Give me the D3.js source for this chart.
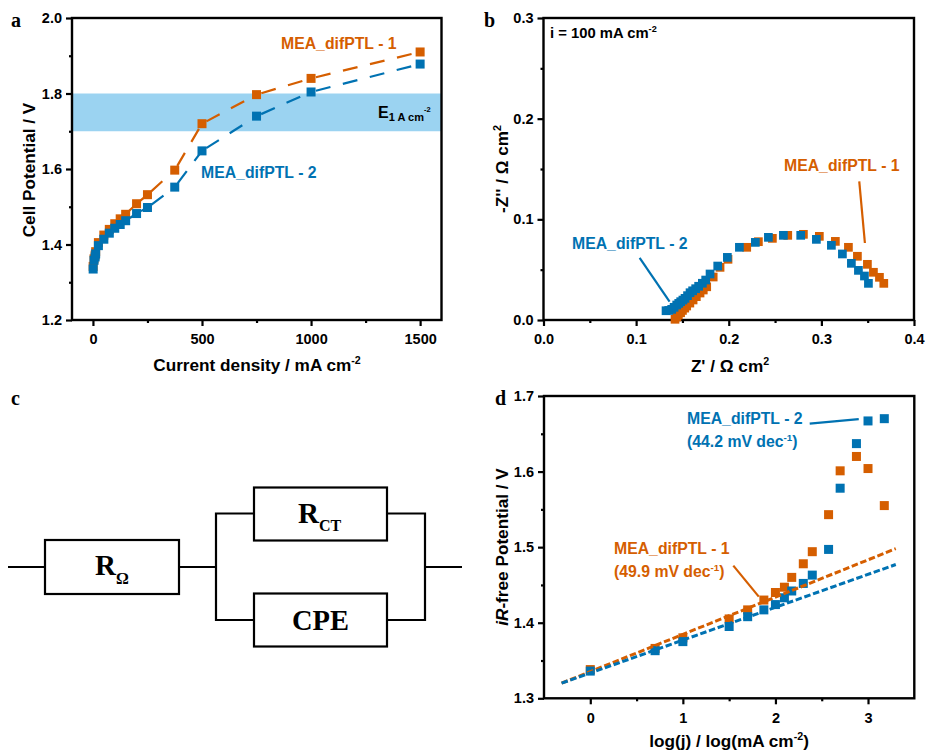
<!DOCTYPE html>
<html>
<head>
<meta charset="utf-8">
<script src="https://cdn.jsdelivr.net/npm/d3@7"></script>
<style>
  html, body { margin: 0; padding: 0; background: #fff; }
  svg { display: block; }
  text { font-family: "Liberation Sans", Arial, sans-serif; font-weight: bold; }
  .serif { font-family: "Liberation Serif", "Times New Roman", serif; }
</style>
</head>
<body>
<svg id="chart" width="926" height="752"></svg>
<script>
// panel a: polarisation curves
const currentDensity = [1, 5, 10, 12.5, 25, 50, 75, 100, 125, 150, 200, 250, 375, 500, 750, 1000, 1500];
const polarisation1 = [1.342, 1.362, 1.372, 1.381, 1.405, 1.425, 1.44, 1.455, 1.468, 1.48, 1.508, 1.532, 1.597, 1.72, 1.797, 1.84, 1.91];
const polarisation2 = [1.335, 1.358, 1.367, 1.375, 1.397, 1.414, 1.43, 1.443, 1.453, 1.463, 1.482, 1.498, 1.552, 1.648, 1.74, 1.804, 1.878];

// panel b: impedance spectra
const nyquistX1 = [0.142, 0.144, 0.1456, 0.148, 0.15, 0.1525, 0.1546, 0.158, 0.1615, 0.165, 0.169, 0.1725, 0.1762, 0.1832, 0.1906, 0.1992, 0.2194, 0.232, 0.2471, 0.2637, 0.2806, 0.2978, 0.3151, 0.3292, 0.3389, 0.3497, 0.3562, 0.3627, 0.3674];
const nyquistY1 = [0.0007, 0.003, 0.005, 0.0072, 0.0095, 0.0118, 0.0139, 0.0168, 0.0199, 0.0232, 0.0268, 0.0298, 0.033, 0.0427, 0.0523, 0.0603, 0.0722, 0.0778, 0.0811, 0.0841, 0.0851, 0.0831, 0.0781, 0.0722, 0.0633, 0.0553, 0.0474, 0.0424, 0.0364];
const nyquistX2 = [0.1323, 0.1352, 0.1384, 0.141, 0.1438, 0.146, 0.1481, 0.1505, 0.1528, 0.1555, 0.1582, 0.161, 0.1643, 0.1675, 0.1715, 0.1751, 0.1798, 0.1881, 0.1985, 0.2115, 0.2287, 0.2428, 0.259, 0.2777, 0.2946, 0.3108, 0.3227, 0.3324, 0.34, 0.3465, 0.3508];
const nyquistY2 = [0.0092, 0.0095, 0.0106, 0.0126, 0.0149, 0.0165, 0.0182, 0.0198, 0.0215, 0.0242, 0.0271, 0.029, 0.0311, 0.0335, 0.0365, 0.0397, 0.0457, 0.0536, 0.0622, 0.0722, 0.0771, 0.0821, 0.0841, 0.0841, 0.0801, 0.0742, 0.0656, 0.0563, 0.0493, 0.0437, 0.0364];

// panel d: tafel plot
const logJ = [0, 0.7, 1, 1.5, 1.7, 1.875, 2, 2.097, 2.176, 2.301, 2.398, 2.574, 2.699, 2.875, 3, 3.176];
const tafel1 = [1.338, 1.366, 1.38, 1.405, 1.417, 1.43, 1.44, 1.447, 1.46, 1.478, 1.494, 1.543, 1.601, 1.62, 1.604, 1.555];
const tafel2 = [1.336, 1.363, 1.375, 1.395, 1.408, 1.417, 1.424, 1.433, 1.442, 1.452, 1.463, 1.497, 1.578, 1.637, 1.667, 1.67];
const fitX = [-0.31, 3.3];
const fit1 = [1.32, 1.498];
const fit2 = [1.32, 1.477];

const orange = "#D55E00";
const blue = "#0072B2";
const band = "#9BD3F1";

const svg = d3.select("#chart");

// framed plot with origin style axes, ticks pointing out
function makeFrame(box, xDomain, yDomain, xMajor, xMinor, yMajor, yMinor, xFmt, yFmt) {
  const x = d3.scaleLinear().domain(xDomain).range([box.left, box.right]);
  const y = d3.scaleLinear().domain(yDomain).range([box.bottom, box.top]);
  const g = svg.append("g");
  const frame = g.append("g").attr("class", "frame");

  const styleAxis = (a) => {
    a.select(".domain").remove();
    a.selectAll("line").attr("stroke", "#000").attr("stroke-width", 2.2);
    a.selectAll("text").attr("fill", "#000").style("font-size", "14.5px");
  };

  const bottom = frame.append("g").attr("transform", `translate(0,${box.bottom})`);
  bottom.append("g").call(d3.axisBottom(x).tickValues(xMajor).tickFormat(xFmt).tickSize(6).tickPadding(8)).call(styleAxis);
  bottom.append("g").call(d3.axisBottom(x).tickValues(xMinor).tickFormat("").tickSize(3)).call(styleAxis);
  const left = frame.append("g").attr("transform", `translate(${box.left},0)`);
  left.append("g").call(d3.axisLeft(y).tickValues(yMajor).tickFormat(yFmt).tickSize(6).tickPadding(4)).call(styleAxis);
  left.append("g").call(d3.axisLeft(y).tickValues(yMinor).tickFormat("").tickSize(3)).call(styleAxis);

  frame.append("rect")
    .attr("x", box.left).attr("y", box.top)
    .attr("width", box.right - box.left).attr("height", box.bottom - box.top)
    .attr("fill", "none").attr("stroke", "#000").attr("stroke-width", 2.4);
  return { x, y, g, frame };
}

function addSquares(p, xs, ys, color, size) {
  p.g.append("g").selectAll("rect").data(xs).join("rect")
    .attr("x", (d) => p.x(d) - size / 2)
    .attr("y", (d, i) => p.y(ys[i]) - size / 2)
    .attr("width", size).attr("height", size)
    .attr("fill", color);
}

function addLine(p, xs, ys, color, width, dash) {
  const line = d3.line().x((d) => p.x(d)).y((d, i) => p.y(ys[i]));
  p.g.append("path").datum(xs)
    .attr("d", line)
    .attr("fill", "none").attr("stroke", color)
    .attr("stroke-width", width).attr("stroke-dasharray", dash);
}

// the dash pattern restarts at every marker edge in panel a
function addSegments(p, xs, ys, color) {
  const segs = d3.pairs(d3.range(xs.length));
  p.g.append("g").selectAll("line").data(segs).join("line")
    .attr("x1", (d) => p.x(xs[d[0]])).attr("y1", (d) => p.y(ys[d[0]]))
    .attr("x2", (d) => p.x(xs[d[1]])).attr("y2", (d) => p.y(ys[d[1]]))
    .attr("stroke", color).attr("stroke-width", 2.2)
    .attr("stroke-dasharray", "15 12.8")
    .attr("stroke-dashoffset", -5);
}

// text with parts, each part is [string, {sup, sub, italic, size}]
function addText(x, y, parts, opts = {}) {
  const base = opts.size || 17.2;
  const t = svg.append("text")
    .attr("transform", `translate(${x},${y})${opts.rotate ? ` rotate(${opts.rotate})` : ""}`)
    .attr("text-anchor", opts.anchor || "start")
    .attr("fill", opts.color || "#000")
    .style("font-size", base + "px");
  if (opts.serif) t.attr("class", "serif");
  let shift = 0;
  parts.forEach((part) => {
    const [str, o] = Array.isArray(part) ? part : [part, {}];
    const span = t.append("tspan").text(str);
    const size = o.size || (o.sup || o.sub ? base * 0.62 : base);
    span.style("font-size", size + "px");
    if (o.italic) span.style("font-style", "italic");
    const target = o.sup ? -base * 0.38 : o.sub ? base * (opts.subDrop || 0.22) : 0;
    span.attr("dy", target - shift);
    shift = target;
  });
  return t;
}

function addLeader(p, x1, y1, x2, y2, color) {
  p.g.append("line")
    .attr("x1", p.x(x1)).attr("y1", p.y(y1))
    .attr("x2", p.x(x2)).attr("y2", p.y(y2))
    .attr("stroke", color).attr("stroke-width", 2.2);
}

// ---------- panel a
const a = makeFrame({ left: 72, right: 441.5, top: 18, bottom: 320 },
  [-96, 1598], [1.2, 2.0], [0, 500, 1000, 1500], [250, 750, 1250], [1.2, 1.4, 1.6, 1.8, 2.0], [1.3, 1.5, 1.7, 1.9],
  d3.format("d"), d3.format(".1f"));
a.g.insert("rect", ".frame")
  .attr("x", a.x(-96)).attr("width", a.x(1598) - a.x(-96))
  .attr("y", a.y(1.8)).attr("height", a.y(1.7) - a.y(1.8))
  .attr("fill", band);
addSegments(a, currentDensity, polarisation1, orange);
addSegments(a, currentDensity, polarisation2, blue);
addSquares(a, currentDensity, polarisation1, orange, 9);
addSquares(a, currentDensity, polarisation2, blue, 9);
addText(281, 49, ["MEA_difPTL - 1"], { color: orange, size: 15.8 });
addText(201, 178, ["MEA_difPTL - 2"], { color: blue, size: 15.8 });
addText(378, 118, ["E", ["1 A cm", { sub: true, size: 11 }], ["-2", { sup: true, size: 7.5 }]], { size: 16, subDrop: 0.2 });
addText(257, 371, ["Current density / mA cm", ["-2", { sup: true }]], { anchor: "middle" });
addText(35, 170, ["Cell Potential / V"], { anchor: "middle", rotate: -90 });

// ---------- panel b
const b = makeFrame({ left: 543.5, right: 914, top: 18, bottom: 320 },
  [0, 0.4], [0, 0.3], [0, 0.1, 0.2, 0.3, 0.4], [0.05, 0.15, 0.25, 0.35], [0, 0.1, 0.2, 0.3], [0.05, 0.15, 0.25],
  d3.format(".1f"), d3.format(".1f"));
addSquares(b, nyquistX1, nyquistY1, orange, 8.7);
addSquares(b, nyquistX2, nyquistY2, blue, 8.7);
addLeader(b, 0.1038, 0.0618, 0.1361, 0.0182, blue);
addLeader(b, 0.3409, 0.1378, 0.3470, 0.0765, orange);
addText(572, 249, ["MEA_difPTL - 2"], { color: blue, size: 15.8 });
addText(784, 171, ["MEA_difPTL - 1"], { color: orange, size: 15.8 });
addText(550, 38, ["i = 100 mA cm", ["-2", { sup: true }]], { size: 14.8 });
addText(730, 372, ["Z' / Ω cm", ["2", { sup: true }]], { anchor: "middle" });
addText(508, 169, ["-Z'' / Ω cm", ["2", { sup: true }]], { anchor: "middle", rotate: -90 });

// ---------- panel d
const dp = makeFrame({ left: 544, right: 914.3, top: 396, bottom: 698.3 },
  [-0.5, 3.5], [1.3, 1.7], [0, 1, 2, 3], [0.5, 1.5, 2.5], [1.3, 1.4, 1.5, 1.6, 1.7], [1.35, 1.45, 1.55, 1.65],
  d3.format("d"), d3.format(".1f"));
addSquares(dp, logJ, tafel1, orange, 9);
addSquares(dp, logJ, tafel2, blue, 9);
addLine(dp, fitX, fit1, orange, 3, "6.5 2.7");
addLine(dp, fitX, fit2, blue, 3, "6.5 2.7");
addLeader(dp, 2.37, 1.6635, 2.90, 1.6695, blue);
addLeader(dp, 1.545, 1.4755, 1.82, 1.4345, orange);
addText(687, 424, ["MEA_difPTL - 2"], { color: blue, size: 15.8 });
addText(687, 447, ["(44.2 mV dec", ["-1", { sup: true }], ")"], { color: blue, size: 15.8 });
addText(614, 554, ["MEA_difPTL - 1"], { color: orange, size: 15.8 });
addText(614, 577, ["(49.9 mV dec", ["-1", { sup: true }], ")"], { color: orange, size: 15.8 });
addText(729, 747, ["log(j) / log(mA cm", ["-2", { sup: true }], ")"], { anchor: "middle" });
addText(508, 547, [["iR", { italic: true }], "-free Potential / V"], { anchor: "middle", rotate: -90 });

// ---------- panel c: equivalent circuit
const wires = [
  [[8, 567], [45, 567]], [[179, 567], [216, 567]],
  [[254, 513.5], [216, 513.5], [216, 620], [254, 620]],
  [[387, 513.5], [425, 513.5], [425, 620], [387, 620]],
  [[425, 567], [462, 567]]
];
const boxes = [
  { x: 45, y: 540, w: 134, h: 54 },
  { x: 254, y: 487.5, w: 133, h: 53 },
  { x: 254, y: 593.5, w: 133, h: 53 }
];
const circuit = svg.append("g");
circuit.selectAll("path").data(wires).join("path")
  .attr("d", d3.line())
  .attr("fill", "none").attr("stroke", "#000").attr("stroke-width", 2.2);
circuit.selectAll("rect").data(boxes).join("rect")
  .attr("x", (d) => d.x).attr("y", (d) => d.y)
  .attr("width", (d) => d.w).attr("height", (d) => d.h)
  .attr("fill", "none").attr("stroke", "#000").attr("stroke-width", 2.2);
addText(95, 575, ["R", ["Ω", { sub: true, size: 16 }]], { serif: true, size: 29, subDrop: 0.3 });
addText(298, 522.5, ["R", ["CT", { sub: true, size: 16 }]], { serif: true, size: 29, subDrop: 0.3 });
addText(320.5, 630, ["CPE"], { serif: true, size: 28.5, anchor: "middle" });

// panel letters
addText(11, 27, ["a"], { serif: true, size: 20 });
addText(484, 27, ["b"], { serif: true, size: 20 });
addText(11, 405, ["c"], { serif: true, size: 20 });
addText(495, 405, ["d"], { serif: true, size: 20 });
</script>
</body>
</html>
